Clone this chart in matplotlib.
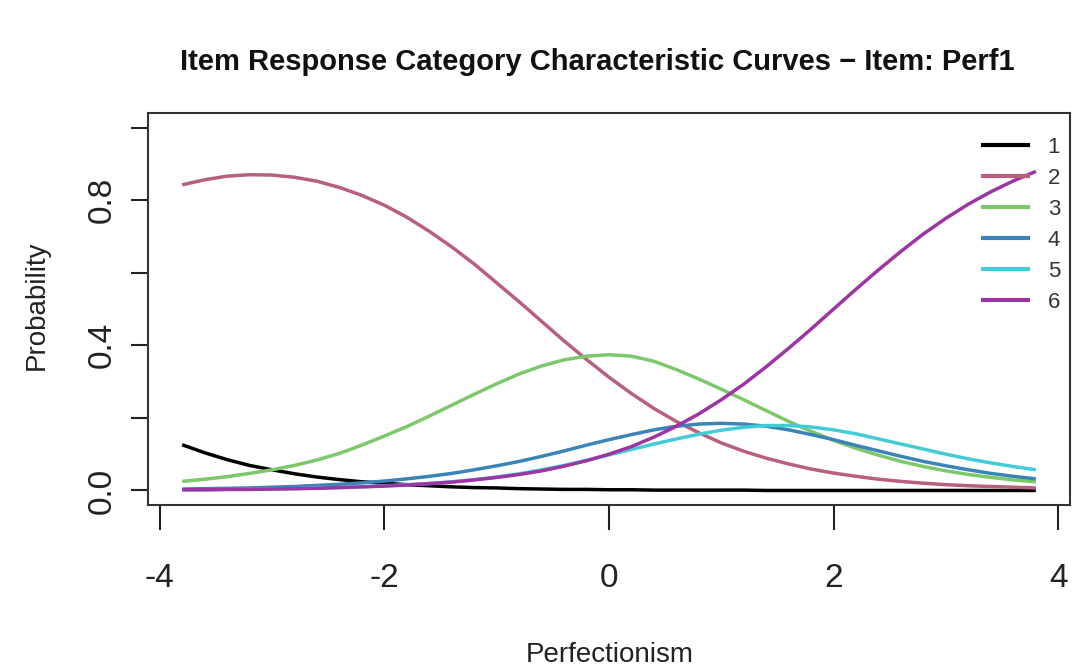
import matplotlib
matplotlib.use("Agg")
import matplotlib.pyplot as plt

theta = [-3.8, -3.6, -3.4, -3.2, -3.0, -2.8, -2.6, -2.4, -2.2, -2.0,
         -1.8, -1.6, -1.4, -1.2, -1.0, -0.8, -0.6, -0.4, -0.2, 0.0,
         0.2, 0.4, 0.6, 0.8, 1.0, 1.2, 1.4, 1.6, 1.8, 2.0,
         2.2, 2.4, 2.6, 2.8, 3.0, 3.2, 3.4, 3.6, 3.8]

cat1 = [0.126, 0.104, 0.085, 0.069, 0.057, 0.046, 0.037, 0.030, 0.024, 0.020,
        0.016, 0.013, 0.010, 0.008, 0.007, 0.005, 0.004, 0.003, 0.003, 0.002,
        0.002, 0.001, 0.001, 0.001, 0.001, 0.001, 0.000, 0.000, 0.000, 0.000,
        0.000, 0.000, 0.000, 0.000, 0.000, 0.000, 0.000, 0.000, 0.000]
cat2 = [0.842, 0.856, 0.866, 0.870, 0.869, 0.863, 0.852, 0.835, 0.813, 0.786,
        0.753, 0.714, 0.671, 0.624, 0.572, 0.520, 0.466, 0.412, 0.361, 0.312,
        0.267, 0.226, 0.190, 0.159, 0.131, 0.108, 0.089, 0.073, 0.059, 0.048,
        0.039, 0.031, 0.025, 0.020, 0.016, 0.013, 0.011, 0.009, 0.007]
cat3 = [0.025, 0.031, 0.038, 0.047, 0.057, 0.069, 0.084, 0.102, 0.125, 0.150,
        0.176, 0.205, 0.235, 0.265, 0.294, 0.321, 0.343, 0.360, 0.370, 0.374,
        0.370, 0.356, 0.333, 0.307, 0.279, 0.250, 0.220, 0.190, 0.163, 0.138,
        0.116, 0.097, 0.080, 0.066, 0.054, 0.044, 0.036, 0.029, 0.024]
cat4 = [0.004, 0.005, 0.006, 0.007, 0.009, 0.011, 0.014, 0.017, 0.021, 0.026,
        0.032, 0.039, 0.047, 0.057, 0.068, 0.080, 0.094, 0.109, 0.125, 0.140,
        0.154, 0.167, 0.177, 0.183, 0.185, 0.183, 0.177, 0.167, 0.154, 0.140,
        0.124, 0.109, 0.094, 0.080, 0.068, 0.057, 0.047, 0.039, 0.032]
cat5 = [0.002, 0.002, 0.003, 0.003, 0.004, 0.005, 0.007, 0.008, 0.010, 0.013,
        0.016, 0.019, 0.024, 0.030, 0.037, 0.046, 0.057, 0.069, 0.083, 0.098,
        0.113, 0.128, 0.142, 0.155, 0.166, 0.174, 0.179, 0.179, 0.175, 0.167,
        0.156, 0.142, 0.128, 0.114, 0.100, 0.087, 0.076, 0.066, 0.057]
cat6 = [0.002, 0.002, 0.003, 0.003, 0.004, 0.005, 0.006, 0.008, 0.010, 0.012,
        0.015, 0.019, 0.023, 0.029, 0.036, 0.044, 0.054, 0.067, 0.082, 0.100,
        0.121, 0.147, 0.177, 0.211, 0.250, 0.293, 0.341, 0.392, 0.445, 0.500,
        0.555, 0.608, 0.659, 0.707, 0.750, 0.789, 0.823, 0.853, 0.879]

categories = ["1", "2", "3", "4", "5", "6"]
series = [cat1, cat2, cat3, cat4, cat5, cat6]
colors = ["#000000", "#B8607A", "#7CC86A", "#3A84B8", "#44CCD6", "#9C34A4"]

xticks = [-4, -2, 0, 2, 4]
xtick_labels = ["-4", "-2", "0", "2", "4"]
yticks = [0.0, 0.2, 0.4, 0.6, 0.8, 1.0]
ytick_labels = ["0.0", "", "0.4", "", "0.8", ""]

plt.rcParams["font.family"] = ["Liberation Sans", "DejaVu Sans"]

W, H = 1072, 672
fig = plt.figure(figsize=(W / 100, H / 100), dpi=100)
ax = fig.add_axes([148 / W, 1 - 505 / H, (1070 - 148) / W, (505 - 113) / H])

for lab, ys, c in zip(categories, series, colors):
    ax.plot(theta, ys, color=c, lw=2.5, label=lab, solid_capstyle="butt")

ax.set_xlim(-4.104, 4.104)
ax.set_ylim(-0.04, 1.04)
ax.set_xticks(xticks)
ax.set_xticklabels(xtick_labels)
ax.set_yticks(yticks)
ax.set_yticklabels(ytick_labels, rotation=90, va="center")

for s in ax.spines.values():
    s.set_linewidth(1.5)
    s.set_color("#333333")

ax.tick_params(axis="x", direction="out", length=18, width=1.5, pad=24,
               labelsize=24, colors="#222222")
ax.tick_params(axis="y", direction="out", length=12, width=1.5, pad=10,
               labelsize=24, colors="#222222")

ax.set_xlabel("Perfectionism", fontsize=20, color="#222222")
ax.xaxis.set_label_coords((610 - 148) / (1070 - 148), -(655 - 505) / (505 - 113))
ax.xaxis.label.set_va("center")
ax.set_ylabel("Probability", fontsize=20, color="#222222")
ax.yaxis.set_label_coords(-(148 - 37) / (1070 - 148), (505 - 305) / (505 - 113))
ax.yaxis.label.set_va("center")

fig.text(597 / W, 1 - 62 / H,
         "Item Response Category Characteristic Curves \u2212 Item: Perf1",
         ha="center", va="center", fontsize=21, fontweight="bold", color="#111111")

leg = ax.legend(loc="upper right",
                bbox_to_anchor=(1.0 + 8 / 922, 1.0 - 6 / 392),
                frameon=False, fontsize=16, handlelength=2.2, handletextpad=0.8,
                labelspacing=0.45, borderaxespad=0.5, borderpad=0.3)
for line in leg.get_lines():
    line.set_linewidth(3.0)
for t in leg.get_texts():
    t.set_color("#333333")

fig.savefig("out.png", dpi=100)
